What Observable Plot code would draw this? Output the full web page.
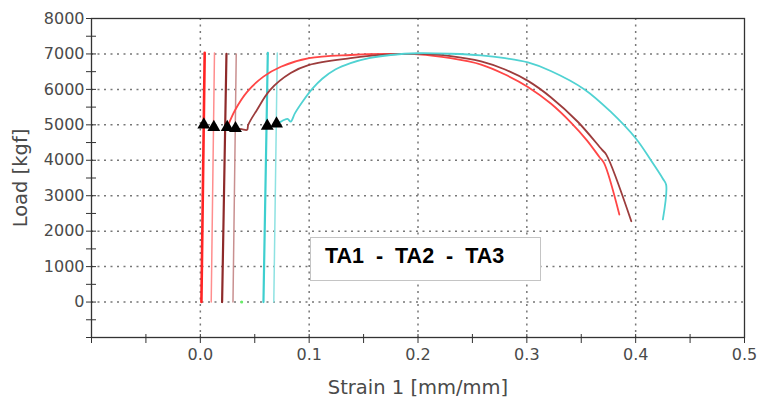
<!DOCTYPE html>
<html>
<head>
<meta charset="utf-8">
<script src="https://cdn.jsdelivr.net/npm/d3@7"></script>
<script src="https://cdn.jsdelivr.net/npm/@observablehq/plot@0.6"></script>
<style>
  body { margin: 0; background: #fff; }
  #wrap { position: relative; width: 760px; height: 404px; }
  #legend {
    position: absolute; left: 310px; top: 237px; width: 229px; height: 42px;
    border: 1.5px solid #c4c4c4; background: #fff;
  }
  #legend span {
    position: absolute; left: 14px; top: 6px;
    font: bold 21.5px "Liberation Sans", Arial, sans-serif; color: #000; white-space: pre;
  }
</style>
</head>
<body>
<div id="wrap"><div id="legend"><span>TA1  -  TA2  -  TA3</span></div></div>
<script>
// ---- axis ticks ----
const xTicks = [-0.1, -0.05, 0, 0.05, 0.1, 0.15, 0.2, 0.25, 0.3, 0.35, 0.4, 0.45, 0.5];
const xLabelValues = [0, 0.1, 0.2, 0.3, 0.4, 0.5];
const xLabelTexts = ["0.0", "0.1", "0.2", "0.3", "0.4", "0.5"];
const xGrid = [0, 0.1, 0.2, 0.3, 0.4];
const yTicks = [-1000, -500, 0, 500, 1000, 1500, 2000, 2500, 3000, 3500, 4000, 4500, 5000, 5500, 6000, 6500, 7000, 7500, 8000];
const yLabelValues = [0, 1000, 2000, 3000, 4000, 5000, 6000, 7000, 8000];
const yLabelTexts = ["0", "1000", "2000", "3000", "4000", "5000", "6000", "7000", "8000"];
const yGrid = [0, 1000, 2000, 3000, 4000, 5000, 6000, 7000];

// ---- curves (strain, load) ----
const ta1Strain = [0.025, 0.032, 0.043, 0.058, 0.074, 0.1, 0.138, 0.17, 0.2, 0.23, 0.258, 0.28, 0.301, 0.322, 0.341, 0.355, 0.367, 0.371, 0.385];
const ta1Load   = [4950, 5420, 5930, 6360, 6640, 6880, 6970, 7000, 6990, 6880, 6700, 6420, 6070, 5600, 5050, 4570, 4080, 3920, 2470];

const ta2Strain = [0.032, 0.038, 0.043, 0.044, 0.052, 0.064, 0.083, 0.1, 0.138, 0.17, 0.2, 0.23, 0.258, 0.28, 0.301, 0.322, 0.347, 0.369, 0.373, 0.396];
const ta2Load   = [4910, 4880, 4860, 5000, 5420, 5980, 6460, 6690, 6880, 6980, 7000, 6940, 6790, 6560, 6240, 5780, 5080, 4300, 4160, 2280];

const ta3Strain = [0.07, 0.074, 0.08, 0.083, 0.087, 0.095, 0.103, 0.112, 0.124, 0.138, 0.155, 0.175, 0.2, 0.23, 0.258, 0.28, 0.301, 0.322, 0.353, 0.377, 0.4, 0.414, 0.425, 0.428, 0.425];
const ta3Load   = [5030, 5090, 5170, 5090, 5330, 5700, 6020, 6300, 6560, 6740, 6880, 6970, 7020, 7005, 6960, 6880, 6760, 6520, 6000, 5370, 4620, 4000, 3480, 3310, 2330];

const curveColors = ["#ff4646", "#9c3c3c", "#50d2d2"];

// ---- elastic (near-vertical) segments ----
const elasticStrainBottom = [0.001, 0.010, 0.020, 0.030, 0.058, 0.0675];
const elasticStrainTop    = [0.004, 0.013, 0.024, 0.033, 0.062, 0.0707];
const elasticLoadBottom   = [0, 0, 0, 0, 0, 0];
const elasticLoadTop      = [7030, 7030, 7000, 7000, 7030, 7030];
const elasticColors = ["#ff2424", "#ff8e8e", "#8e2a2a", "#c99090", "#3ecfcf", "#8ee2e2"];
const elasticWidths = [2.6, 1.5, 2.2, 1.5, 2.2, 1.5];

// ---- markers ----
const markerStrain = [0.0032, 0.0124, 0.0247, 0.0323, 0.0615, 0.070];
const markerLoad   = [5000, 4930, 4930, 4900, 4970, 5030];

const greenStrain = [0.038];
const greenLoad = [0];

const toRows = (xs, ys) => xs.map((x, i) => ({x, y: ys[i]}));

const lineMarks = [];
elasticStrainBottom.forEach((s, i) => {
  lineMarks.push(Plot.line(
    toRows([s, elasticStrainTop[i]], [elasticLoadBottom[i], elasticLoadTop[i]]),
    {x: "x", y: "y", stroke: elasticColors[i], strokeWidth: elasticWidths[i]}
  ));
});
[[ta1Strain, ta1Load], [ta2Strain, ta2Load], [ta3Strain, ta3Load]].forEach(([xs, ys], i) => {
  lineMarks.push(Plot.line(toRows(xs, ys), {x: "x", y: "y", stroke: curveColors[i], strokeWidth: 1.8, curve: "catmull-rom"}));
});

const fmtX = d => { const i = xLabelValues.findIndex(v => Math.abs(v - d) < 1e-9); return i >= 0 ? xLabelTexts[i] : ""; };
const fmtY = d => { const i = yLabelValues.indexOf(d); return i >= 0 ? yLabelTexts[i] : ""; };

const chart = Plot.plot({
  width: 760,
  height: 404,
  marginLeft: 91,
  marginRight: 16,
  marginTop: 18,
  marginBottom: 67,
  style: {fontFamily: "'DejaVu Sans', Verdana, sans-serif", fontSize: "16px", color: "#333", background: "#fff"},
  x: {domain: [-0.1, 0.5]},
  y: {domain: [-1000, 8000]},
  marks: [
    Plot.gridX(xGrid, {stroke: "#777", strokeOpacity: 1, strokeWidth: 1.5, strokeDasharray: "2,4.5"}),
    Plot.gridY(yGrid, {stroke: "#777", strokeOpacity: 1, strokeWidth: 1.5, strokeDasharray: "2,4.5"}),
    ...lineMarks,
    Plot.dot(toRows(greenStrain, greenLoad), {x: "x", y: "y", r: 1.5, fill: "#66ee66"}),
    Plot.dot(toRows(markerStrain, markerLoad), {x: "x", y: "y", symbol: "triangle", r: 4.8, fill: "#000"}),
    Plot.frame({stroke: "#333", strokeWidth: 1.3}),
    Plot.axisX(xTicks, {tickSize: 6, tickPadding: 5, tickFormat: fmtX, fill: "#4a4a4a", label: null}),
    Plot.axisX(xTicks, {tickSize: -3, tickFormat: () => "", fontSize: 19.5, fill: "#4a4a4a",
      label: "Strain 1 [mm/mm]", labelAnchor: "center", labelOffset: 56, labelArrow: "none"}),
    Plot.axisY(yTicks, {tickSize: 5, tickPadding: 2, tickFormat: fmtY, fill: "#4a4a4a", label: null}),
    Plot.axisY(yTicks, {tickSize: -5, tickFormat: () => "", fontSize: 19.5, fill: "#4a4a4a",
      label: "Load [kgf]", labelAnchor: "center", labelOffset: 78, labelArrow: "none"})
  ]
});
document.getElementById("wrap").prepend(chart);
chart.style.position = "absolute";
chart.style.left = "0";
chart.style.top = "0";
</script>
</body>
</html>
